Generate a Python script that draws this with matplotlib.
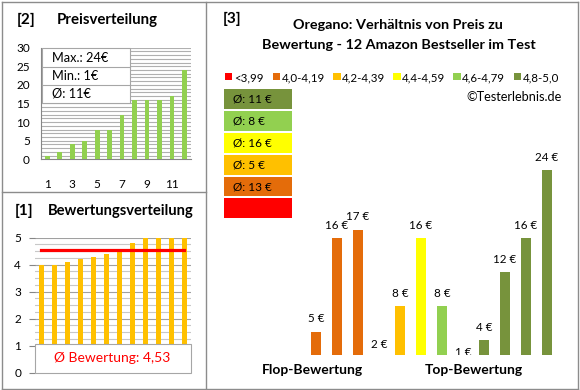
import matplotlib
matplotlib.use("Agg")
import matplotlib.pyplot as plt
import numpy as np
from matplotlib.lines import Line2D
from matplotlib.patches import Rectangle

W, H = 580, 390

# [2] price distribution, sorted ascending
prices = [1, 2, 4, 5, 8, 8, 12, 16, 16, 16, 17, 24]
# [1] rating distribution, sorted ascending
ratings = [4.0, 4.0, 4.1, 4.2, 4.3, 4.4, 4.6, 4.8, 5.0, 5.0, 5.0, 5.0]
# [3] prices ordered from flop to top rating, with their rating group
ratio_prices = [5, 16, 17, 2, 8, 16, 8, 1, 4, 12, 16, 24]
ratio_groups = [1, 1, 1, 2, 2, 3, 4, 5, 5, 5, 5, 5]
group_labels = ["<3,99", "4,0-4,19", "4,2-4,39", "4,4-4,59", "4,6-4,79", "4,8-5,0"]
group_colors = ["#FF0000", "#E46C0A", "#FFC000", "#FFFF00", "#92D050", "#77933C"]

FONT = "Lato"
plt.rcParams["font.family"] = [FONT, "DejaVu Sans"]

fig = plt.figure(figsize=(W / 100, H / 100), dpi=100)


def px_axes(x0, y0, x1, y1):
    return fig.add_axes([x0 / W, 1 - y1 / H, (x1 - x0) / W, (y1 - y0) / H])


def ftext(x, y, s, **kw):
    kw.setdefault("va", "center")
    return fig.text(x / W, 1 - y / H, s, **kw)


def frect(x0, y0, x1, y1, **kw):
    fig.add_artist(Rectangle((x0 / W, 1 - y1 / H), (x1 - x0) / W, (y1 - y0) / H,
                             transform=fig.transFigure, **kw))


def fline(x0, y0, x1, y1, **kw):
    fig.add_artist(Line2D([x0 / W, x1 / W], [1 - y0 / H, 1 - y1 / H],
                          transform=fig.transFigure, **kw))


border = "#8C8C8C"
fline(1.5, 1.5, 577.5, 1.5, color=border, lw=1)
fline(1.5, 388.5, 577.5, 388.5, color=border, lw=1)
fline(1.5, 1.5, 1.5, 388.5, color=border, lw=1)
fline(577.5, 1.5, 577.5, 388.5, color=border, lw=1)
fline(205.5, 1.5, 205.5, 388.5, color=border, lw=1)
fline(1.5, 191.5, 205.5, 191.5, color=border, lw=1)

# ---------------- [2] Preisverteilung
ax2 = px_axes(41, 47.7, 190.7, 159.3)
x = np.arange(1, len(prices) + 1)
ax2.bar(x, prices, width=0.38, color="#92D050", zorder=3)
ax2.set_xlim(0.5, 12.5)
ax2.set_ylim(0, 30)
for v in range(0, 31):
    ax2.axhline(v, color="#B0B0B0", lw=0.8, zorder=1)
ax2.set_yticks(range(0, 31, 5))
ax2.set_xticks([1, 3, 5, 7, 9, 11])
ax2.tick_params(axis="both", length=0, labelsize=8.5)
ax2.tick_params(axis="x", pad=14)
ax2.tick_params(axis="y", pad=8)
for s in ["top", "right"]:
    ax2.spines[s].set_visible(False)
for s in ["left", "bottom"]:
    ax2.spines[s].set_color("#868686")

ftext(17, 20, "[2]", fontsize=11, fontweight="bold")
ftext(57, 20, "Preisverteilung", fontsize=10.8, fontweight="bold")

frect(41.7, 48, 130, 103, facecolor="white", edgecolor="#A6A6A6", lw=0.8)
fline(41.7, 67, 130, 67, color="#A6A6A6", lw=0.8)
fline(41.7, 84.5, 130, 84.5, color="#A6A6A6", lw=0.8)
ftext(52, 58, f"Max.: {max(prices)}€", fontsize=9.2)
ftext(52, 76, f"Min.: {min(prices)}€", fontsize=9.2)
ftext(52, 94, f"Ø: {round(np.mean(prices))}€", fontsize=9.2)

# ---------------- [1] Bewertungsverteilung
ax1 = px_axes(35, 237.7, 190.7, 372.7)
ax1.bar(x, ratings, width=0.37, color="#FFC000", zorder=3)
mean_rating = float(np.mean(ratings))
ax1.plot(x, [mean_rating] * len(x), color="#FF0000", lw=2.3,
         solid_capstyle="projecting", zorder=4)
ax1.set_xlim(0.5, 12.5)
ax1.set_ylim(0, 5)
for v in np.arange(0, 5.01, 0.25):
    major = abs(v - round(v)) < 1e-6
    ax1.axhline(v, color="#A0A0A0" if major else "#C8C8C8", lw=0.8, zorder=1)
ax1.set_yticks(range(0, 6))
ax1.set_xticks([])
ax1.tick_params(axis="y", length=4, color="#868686", labelsize=8.5, pad=6)
for s in ["top", "right", "bottom", "left"]:
    ax1.spines[s].set_visible(False)

ftext(15, 211, "[1]", fontsize=11, fontweight="bold")
ftext(48, 211, "Bewertungsverteilung", fontsize=10.6, fontweight="bold")

frect(35, 344, 190.7, 372.7, facecolor="white", edgecolor="#A6A6A6", lw=0.8)
ftext(112, 358, f"Ø Bewertung: {mean_rating:.2f}".replace(".", ","),
      fontsize=10, color="#FF0000", ha="center")

# ---------------- [3] Verhältnis Preis / Bewertung
ax3 = px_axes(225, 150, 566, 355)
xi = np.arange(len(ratio_prices))
ax3.bar(xi, ratio_prices, width=0.43,
        color=[group_colors[g] for g in ratio_groups])
for i, p in zip(xi, ratio_prices):
    ax3.annotate(f"{p} €", (i, p), xytext=(0, 13), textcoords="offset pixels",
                 ha="center", va="center", fontsize=8.4, clip_on=True,
                 annotation_clip=False)
ax3.set_xlim(-(316 - 225) / 21, (566 - 316) / 21)
ax3.set_ylim(2.24, 2.24 + 205 / 8.5)
ax3.axis("off")

ftext(223, 19, "[3]", fontsize=11, fontweight="bold")
ftext(398, 25, "Oregano: Verhältnis von Preis zu", fontsize=10.4,
      fontweight="bold", ha="center")
ftext(399, 45, "Bewertung - 12 Amazon Bestseller im Test", fontsize=10.4,
      fontweight="bold", ha="center")

legend_x = [225, 272.7, 333.3, 393.3, 453.3, 514]
for lx, lab, col in zip(legend_x, group_labels, group_colors):
    frect(lx, 73.3, lx + 7.3, 80.3, facecolor=col, edgecolor="none")
    ftext(lx + 9, 77.7, lab, fontsize=8.3)
ftext(562, 97.3, "©Testerlebnis.de", fontsize=9.2, ha="right")

box_rows = [(89, 109), (111, 131), (133, 153), (155, 175), (177, 196), (198, 218)]
for g, (y0, y1) in zip(range(5, -1, -1), box_rows):
    frect(224, y0, 292, y1, facecolor=group_colors[g], edgecolor="none")
    vals = [p for p, gg in zip(ratio_prices, ratio_groups) if gg == g]
    if vals:
        ftext(233, (y0 + y1) / 2, f"Ø: {round(np.mean(vals))} €", fontsize=8.5)

ftext(312, 370, "Flop-Bewertung", fontsize=10, fontweight="bold", ha="center")
ftext(474, 370, "Top-Bewertung", fontsize=10, fontweight="bold", ha="center")

fig.savefig("out.png", dpi=100)
